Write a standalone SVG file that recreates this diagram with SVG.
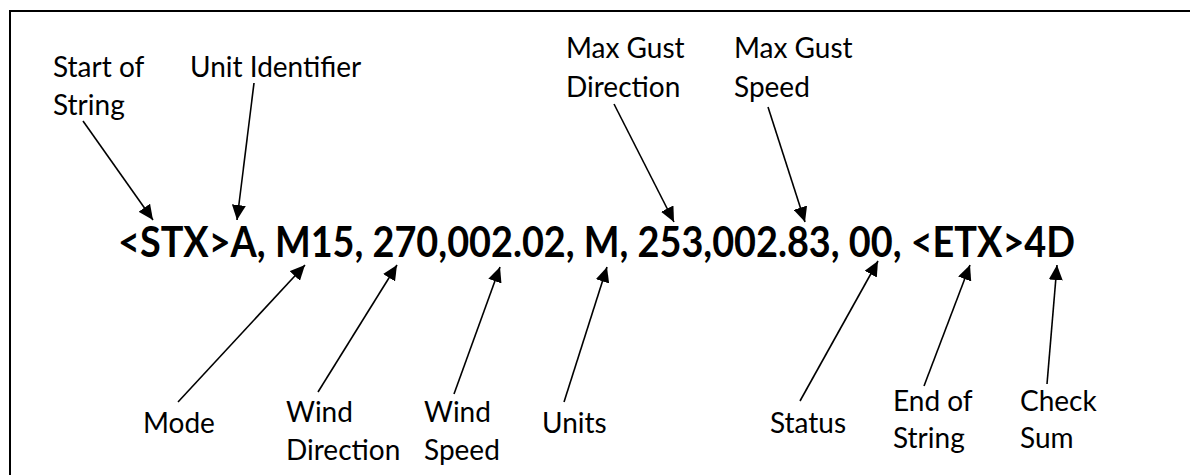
<svg xmlns="http://www.w3.org/2000/svg" width="1190" height="475" viewBox="0 0 1190 475">
<style>
.lbl{font-family:"Lato","Open Sans","Liberation Sans",sans-serif;font-size:28px;fill:#000}
.main{font-family:"Lato","Open Sans","Liberation Sans",sans-serif;font-size:42px;font-weight:bold;fill:#000}
.conn line{stroke:#000;stroke-width:1.6;marker-end:url(#ah)}
</style>
<defs>
<marker id="ah" markerUnits="userSpaceOnUse" markerWidth="16" markerHeight="14" refX="15" refY="7" orient="auto">
<path d="M0,0 L15,7 L0,14 Z" fill="#000"/>
</marker>
</defs>
<rect x="0" y="0" width="1190" height="475" fill="#fff"/>
<rect id="frame" x="10" y="11" width="1195" height="480" fill="none" stroke="#000" stroke-width="2"/>
<g id="data-string"><text class="main" x="118" y="257" textLength="957" lengthAdjust="spacingAndGlyphs">&lt;STX&gt;A, M15, 270,002.02, M, 253,002.83, 00, &lt;ETX&gt;4D</text></g>
<g id="start-of-string"><text class="lbl" x="53" y="77">Start of</text><text class="lbl" x="53" y="115">String</text></g>
<g id="unit-identifier"><text class="lbl" x="190" y="77">Unit Identifier</text></g>
<g id="max-gust-direction"><text class="lbl" x="566" y="58">Max Gust</text><text class="lbl" x="566" y="97">Direction</text></g>
<g id="max-gust-speed"><text class="lbl" x="734" y="58">Max Gust</text><text class="lbl" x="734" y="97">Speed</text></g>
<g id="mode"><text class="lbl" x="143" y="433">Mode</text></g>
<g id="wind-direction"><text class="lbl" x="286" y="422">Wind</text><text class="lbl" x="286" y="460">Direction</text></g>
<g id="wind-speed"><text class="lbl" x="424" y="422">Wind</text><text class="lbl" x="424" y="460">Speed</text></g>
<g id="units"><text class="lbl" x="542" y="433">Units</text></g>
<g id="status"><text class="lbl" x="770" y="433">Status</text></g>
<g id="end-of-string"><text class="lbl" x="893" y="411">End of</text><text class="lbl" x="893" y="448">String</text></g>
<g id="check-sum"><text class="lbl" x="1020" y="411">Check</text><text class="lbl" x="1020" y="448">Sum</text></g>
<g id="connectors" class="conn">
<line x1="83" y1="121" x2="153" y2="220"/>
<line x1="254" y1="83" x2="237" y2="220"/>
<line x1="614" y1="104" x2="674" y2="222"/>
<line x1="768" y1="107" x2="805" y2="222"/>
<line x1="178" y1="402" x2="305" y2="265"/>
<line x1="318" y1="392" x2="397" y2="265"/>
<line x1="454" y1="394" x2="500" y2="267"/>
<line x1="564" y1="402" x2="607" y2="267"/>
<line x1="800" y1="401" x2="878" y2="261"/>
<line x1="924" y1="386" x2="970" y2="265"/>
<line x1="1047" y1="384" x2="1057" y2="265"/>
</g>
</svg>
